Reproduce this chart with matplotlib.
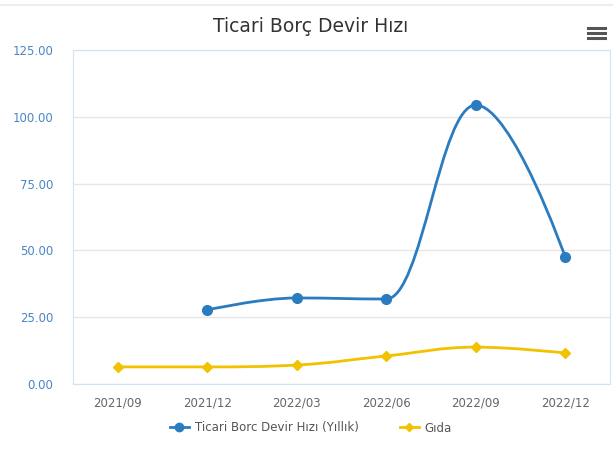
import matplotlib
matplotlib.use("Agg")
import matplotlib.pyplot as plt
from matplotlib.path import Path
from matplotlib.patches import PathPatch
from matplotlib.lines import Line2D

categories = ["2021/09", "2021/12", "2022/03", "2022/06", "2022/09", "2022/12"]
borc_devir = [None, 27.7, 32.2, 31.8, 104.4, 47.5]
gida = [6.4, 6.4, 7.1, 10.5, 13.8, 11.6]
y_ticks = [0, 25, 50, 75, 100, 125]

blue = "#2b7bbf"
yellow = "#f2c200"


def spline_path(xs, ys, smoothing=1.5):
    # Highcharts-style spline control points
    denom = smoothing + 1
    verts = [(xs[0], ys[0])]
    codes = [Path.MOVETO]
    n = len(xs)
    left = [None] * n
    right = [None] * n
    for i in range(n):
        if 0 < i < n - 1:
            lx = (smoothing * xs[i] + xs[i - 1]) / denom
            ly = (smoothing * ys[i] + ys[i - 1]) / denom
            rx = (smoothing * xs[i] + xs[i + 1]) / denom
            ry = (smoothing * ys[i] + ys[i + 1]) / denom
            corr = (ry - ly) * (rx - xs[i]) / (rx - lx) + ys[i] - ry
            ly += corr
            ry += corr
            if ly > ys[i - 1] and ly > ys[i]:
                ly = max(ys[i - 1], ys[i])
                ry = 2 * ys[i] - ly
            elif ly < ys[i - 1] and ly < ys[i]:
                ly = min(ys[i - 1], ys[i])
                ry = 2 * ys[i] - ly
            if ry > ys[i + 1] and ry > ys[i]:
                ry = max(ys[i + 1], ys[i])
                ly = 2 * ys[i] - ry
            elif ry < ys[i + 1] and ry < ys[i]:
                ry = min(ys[i + 1], ys[i])
                ly = 2 * ys[i] - ry
            left[i] = (lx, ly)
            right[i] = (rx, ry)
        else:
            left[i] = (xs[i], ys[i])
            right[i] = (xs[i], ys[i])
    for i in range(1, n):
        verts += [right[i - 1], left[i], (xs[i], ys[i])]
        codes += [Path.CURVE4] * 3
    return Path(verts, codes)


fig = plt.figure(figsize=(6.13, 4.57), dpi=100)
ax = fig.add_axes([73 / 613, 73 / 457, 537 / 613, 334 / 457])

xb = [i for i, v in enumerate(borc_devir) if v is not None]
yb = [v for v in borc_devir if v is not None]
xg = list(range(len(gida)))

ax.add_patch(PathPatch(spline_path(xb, yb), fill=False, edgecolor=blue, lw=2, zorder=3))
ax.plot(xb, yb, "o", color=blue, ms=7, zorder=4)
ax.add_patch(PathPatch(spline_path(xg, gida), fill=False, edgecolor=yellow, lw=2, zorder=3))
ax.plot(xg, gida, "D", color=yellow, ms=5, zorder=4)

ax.set_xlim(-0.5, len(categories) - 0.5)
ax.set_ylim(0, 125)
ax.set_xticks(range(len(categories)))
ax.set_xticklabels(categories, fontsize=8.5, color="#666666")
ax.set_yticks(y_ticks)
ax.set_yticklabels([f"{t:.2f}" for t in y_ticks], fontsize=8.5, color="#4a86c5")
ax.tick_params(length=0, pad=9)
ax.tick_params(axis="y", pad=14)
ax.grid(axis="y", color="#e6e6e6", lw=1)
for s in ax.spines.values():
    s.set_color("#d3e2f3")

fig.text(311 / 613, 1 - 26 / 457, "Ticari Borç Devir Hızı", ha="center", va="center",
         fontsize=13.5, color="#333333")

# menu icon
for yy in (28, 33, 38):
    fig.add_artist(Line2D([588 / 613, 605 / 613], [1 - yy / 457] * 2, color="#555555", lw=2.2))
fig.add_artist(Line2D([0, 1], [1 - 5 / 457] * 2, color="#eeeeee", lw=1.5))

handles = [
    Line2D([], [], color=blue, marker="o", ms=6, lw=2),
    Line2D([], [], color=yellow, marker="D", ms=4.5, lw=2),
]
fig.legend(handles, ["Ticari Borc Devir Hızı (Yıllık)", "Gıda"], loc="center",
           bbox_to_anchor=(311 / 613, 1 - 428 / 457), ncol=2, frameon=False,
           fontsize=8.5, labelcolor="#555555", handlelength=1.6, columnspacing=3.5,
           handletextpad=0.5)

fig.savefig("out.png", dpi=100, facecolor="white")
